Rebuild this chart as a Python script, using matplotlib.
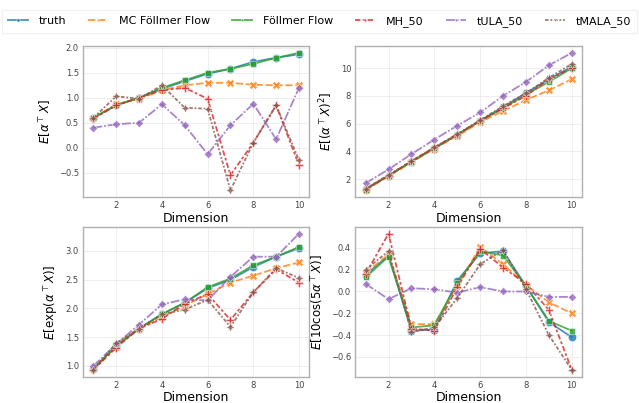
import matplotlib.pyplot as plt

dims = [1, 2, 3, 4, 5, 6, 7, 8, 9, 10]
metodos = ["truth", "MC Föllmer Flow", "Föllmer Flow", "MH_50", "tULA_50", "tMALA_50"]

# E[a^T X]
media_truth = [0.6, 0.85, 1.0, 1.18, 1.33, 1.48, 1.58, 1.72, 1.8, 1.87]
media_mc = [0.6, 0.87, 0.98, 1.15, 1.25, 1.3, 1.3, 1.26, 1.25, 1.25]
media_ff = [0.6, 0.85, 1.0, 1.2, 1.35, 1.5, 1.58, 1.68, 1.8, 1.9]
media_mh = [0.58, 0.85, 1.0, 1.15, 1.2, 0.98, -0.55, 0.1, 0.85, -0.35]
media_tula = [0.4, 0.47, 0.5, 0.87, 0.45, -0.13, 0.45, 0.88, 0.17, 1.2]
media_tmala = [0.6, 1.03, 0.98, 1.25, 0.8, 0.78, -0.85, 0.1, 0.85, -0.25]

# E[(a^T X)^2]
cuad_truth = [1.3, 2.25, 3.25, 4.2, 5.2, 6.2, 7.2, 8.2, 9.2, 10.1]
cuad_mc = [1.2, 2.2, 3.2, 4.2, 5.1, 6.1, 6.9, 7.7, 8.4, 9.2]
cuad_ff = [1.25, 2.25, 3.25, 4.25, 5.2, 6.2, 7.1, 8.1, 9.0, 10.0]
cuad_mh = [1.25, 2.25, 3.3, 4.25, 5.2, 6.2, 7.1, 8.0, 9.2, 10.0]
cuad_tula = [1.7, 2.7, 3.8, 4.85, 5.85, 6.8, 8.0, 9.0, 10.2, 11.1]
cuad_tmala = [1.3, 2.3, 3.3, 4.3, 5.25, 6.25, 7.25, 8.2, 9.3, 10.3]

# E[exp(a^T X)]
exp_truth = [0.95, 1.35, 1.65, 1.9, 2.1, 2.35, 2.5, 2.72, 2.9, 3.05]
exp_mc = [0.95, 1.33, 1.65, 1.85, 2.05, 2.25, 2.45, 2.57, 2.7, 2.8]
exp_ff = [0.95, 1.35, 1.65, 1.9, 2.1, 2.37, 2.52, 2.75, 2.9, 3.07]
exp_mh = [0.93, 1.32, 1.65, 1.82, 2.08, 2.25, 1.8, 2.28, 2.68, 2.45]
exp_tula = [1.0, 1.38, 1.72, 2.07, 2.16, 2.14, 2.55, 2.9, 2.9, 3.3]
exp_tmala = [0.93, 1.4, 1.65, 1.9, 1.98, 2.15, 1.68, 2.28, 2.7, 2.53]

# E[10 cos(5 a^T X)]
cos_truth = [0.15, 0.33, -0.36, -0.35, 0.1, 0.35, 0.37, 0.05, -0.28, -0.42]
cos_mc = [0.17, 0.34, -0.3, -0.3, 0.05, 0.41, 0.25, 0.06, -0.1, -0.2]
cos_ff = [0.13, 0.32, -0.33, -0.31, 0.08, 0.37, 0.33, 0.05, -0.27, -0.36]
cos_mh = [0.16, 0.53, -0.34, -0.36, 0.04, 0.39, 0.22, 0.07, -0.17, -0.72]
cos_tula = [0.07, -0.07, 0.03, 0.02, -0.01, 0.04, 0.0, 0.0, -0.05, -0.05]
cos_tmala = [0.2, 0.37, -0.37, -0.33, -0.06, 0.25, 0.38, 0.02, -0.4, -0.72]

paneles = [
    ([media_truth, media_mc, media_ff, media_mh, media_tula, media_tmala], r"$E[\alpha^\top X]$"),
    ([cuad_truth, cuad_mc, cuad_ff, cuad_mh, cuad_tula, cuad_tmala], r"$E[(\alpha^\top X)^2]$"),
    ([exp_truth, exp_mc, exp_ff, exp_mh, exp_tula, exp_tmala], r"$E[\exp(\alpha^\top X)]$"),
    ([cos_truth, cos_mc, cos_ff, cos_mh, cos_tula, cos_tmala], r"$E[10\cos(5\alpha^\top X)]$"),
]

colores = ["#1f77b4", "#ff7f0e", "#2ca02c", "#d62728", "#9467bd", "#8c564b"]
marcadores = ["o", "X", (4, 0, 45), "P", (4, 0, 0), (4, 1, 0)]
estilos = ["-", (0, (4, 1.5)), "-", (0, (3, 1.25, 1.5, 1.25)), (0, (5, 1, 1, 1)), (0, (2, 1, 1, 1))]

fig = plt.figure(figsize=(6.39, 4.03), dpi=100)
posiciones = [
    [0.130, 0.511, 0.354, 0.375],
    [0.556, 0.511, 0.355, 0.375],
    [0.130, 0.065, 0.354, 0.372],
    [0.556, 0.065, 0.355, 0.372],
]

for pos, (series, etiqueta) in zip(posiciones, paneles):
    ax = fig.add_axes(pos)
    for i, valores in enumerate(series):
        ax.plot(dims, valores, color=colores[i], linestyle=estilos[i], marker=marcadores[i],
                markersize=6, markeredgecolor="white", markeredgewidth=0.4,
                linewidth=1.3, alpha=0.8, label=metodos[i])
    ax.set_xticks([2, 4, 6, 8, 10])
    ax.tick_params(labelsize=6, colors="#444444", length=0, pad=3)
    ax.grid(True, color="#ebebeb", linewidth=0.6)
    for s in ax.spines.values():
        s.set_color("#b0b0b0")
        s.set_linewidth(1.0)
    ax.set_xlabel("Dimension", fontsize=9, labelpad=1)
    ax.set_ylabel(etiqueta, fontsize=8.5)
    handles, labels = ax.get_legend_handles_labels()

fig.legend(handles, labels, loc="upper center", bbox_to_anchor=(0.5, 0.99), ncol=6,
           fontsize=8, frameon=True, markerscale=0.4, handlelength=1.8,
           handletextpad=1.0, columnspacing=1.95, borderpad=0.55, fancybox=False,
           edgecolor="#eeeeee")

fig.savefig("out.png", dpi=100)
